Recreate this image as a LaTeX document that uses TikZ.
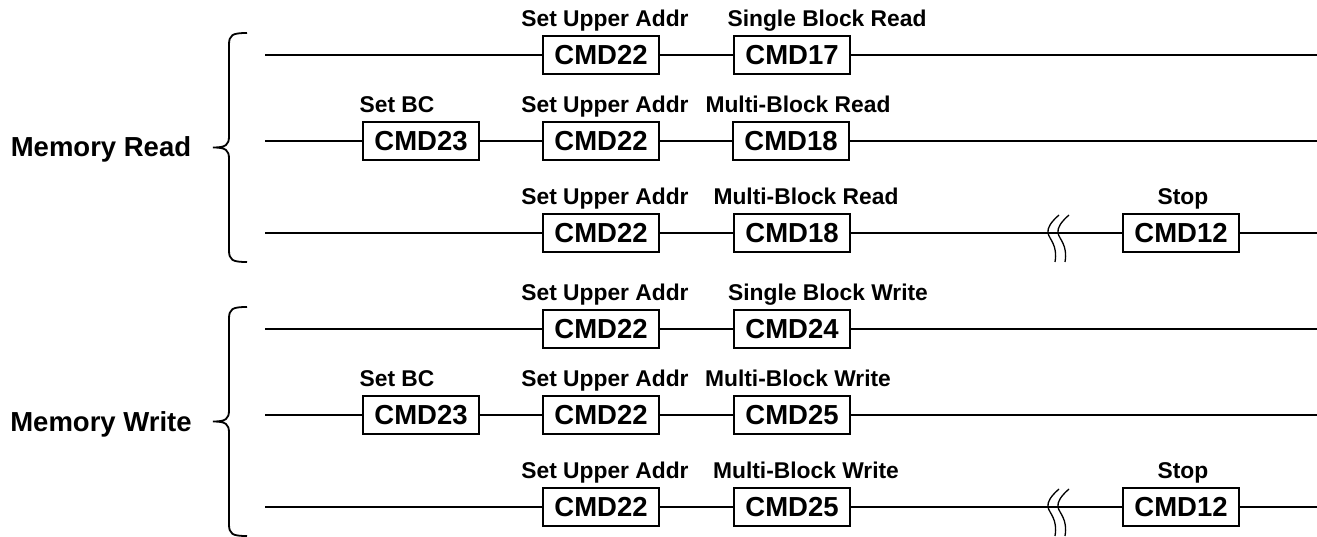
\documentclass[tikz,border=0pt]{standalone}
\usepackage{fontspec}
\setmainfont{Liberation Sans}
\usetikzlibrary{positioning}

\tikzset{
  cmdbox/.style={draw, line width=1.8pt, fill=white, minimum width=116pt, minimum height=38pt,
                 inner sep=0pt, font=\fontsize{27.5}{30}\selectfont\bfseries},
  cmdlbl/.style={anchor=base, inner sep=0pt, font=\fontsize{22.8}{26}\selectfont\bfseries},
  grplbl/.style={anchor=base, inner sep=0pt, font=\fontsize{27.5}{30}\selectfont\bfseries},
  bus/.style={line width=1.8pt},
  brk/.style={line width=1.3pt}
}

\begin{document}
\begin{tikzpicture}[x=1pt, y=-1pt]
    \useasboundingbox (0,0) rectangle (1317,537);

    % Memory read group
    \begin{scope}
        \node[grplbl] (rdlbl) at (101,157) {Memory Read};
        \draw[bus] (247,33) .. controls (232,33) and (229,35) .. (229,45) -- (229,136)
            .. controls (229,145) and (226,147.5) .. (213,147.5)
            .. controls (226,147.5) and (229,150) .. (229,159) -- (229,250)
            .. controls (229,260) and (232,262) .. (247,262);

        % Single block read
        \coordinate (r1s) at (265,55);
        \coordinate (r1e) at (1317,55);
        \node[cmdbox] (r1a) at (601,55) {CMD22};
        \node[cmdbox] (r1b) at (792,55) {CMD17};
        \node[cmdlbl] (r1la) at (605,26.5) {Set Upper Addr};
        \node[cmdlbl] (r1lb) at (827,26.5) {Single Block Read};
        \draw[bus] (r1s) -- (r1a) -- (r1b) -- (r1e);

        % Multi-block read with block count
        \coordinate (r2s) at (265,141);
        \coordinate (r2e) at (1317,141);
        \node[cmdbox] (r2a) at (421,141) {CMD23};
        \node[cmdbox] (r2b) at (601,141) {CMD22};
        \node[cmdbox] (r2c) at (791,141) {CMD18};
        \node[cmdlbl] (r2la) at (397,112.5) {Set BC};
        \node[cmdlbl] (r2lb) at (605,112.5) {Set Upper Addr};
        \node[cmdlbl] (r2lc) at (798,112.5) {Multi-Block Read};
        \draw[bus] (r2s) -- (r2a) -- (r2b) -- (r2c) -- (r2e);

        % Multi-block read with stop
        \coordinate (r3s) at (265,233);
        \coordinate (r3e) at (1317,233);
        \node[cmdbox] (r3a) at (601,233) {CMD22};
        \node[cmdbox] (r3b) at (792,233) {CMD18};
        \node[cmdbox] (r3c) at (1181,233) {CMD12};
        \node[cmdlbl] (r3la) at (605,204.5) {Set Upper Addr};
        \node[cmdlbl] (r3lb) at (806,204.5) {Multi-Block Read};
        \node[cmdlbl] (r3lc) at (1183,204.5) {Stop};
        \draw[bus] (r3s) -- (r3a) -- (r3b) -- (r3c) -- (r3e);
        \begin{scope}[shift={(1053,233)}]
            \draw[brk] (6,-18) .. controls (-2,-11) and (-6,-5) .. (-5,0)
                .. controls (-4,6) and (5,12) .. (2,29);
            \draw[brk] (16,-18) .. controls (8,-11) and (4,-5) .. (5,0)
                .. controls (6,6) and (15,12) .. (12,29);
        \end{scope}
    \end{scope}

    % Memory write group
    \begin{scope}
        \node[grplbl] (wrlbl) at (101,431) {Memory Write};
        \draw[bus] (247,307) .. controls (232,307) and (229,309) .. (229,319) -- (229,410)
            .. controls (229,419) and (226,421.5) .. (213,421.5)
            .. controls (226,421.5) and (229,424) .. (229,433) -- (229,524)
            .. controls (229,534) and (232,536) .. (247,536);

        % Single block write
        \coordinate (w1s) at (265,329);
        \coordinate (w1e) at (1317,329);
        \node[cmdbox] (w1a) at (601,329) {CMD22};
        \node[cmdbox] (w1b) at (792,329) {CMD24};
        \node[cmdlbl] (w1la) at (605,300.5) {Set Upper Addr};
        \node[cmdlbl] (w1lb) at (828,300.5) {Single Block Write};
        \draw[bus] (w1s) -- (w1a) -- (w1b) -- (w1e);

        % Multi-block write with block count
        \coordinate (w2s) at (265,415);
        \coordinate (w2e) at (1317,415);
        \node[cmdbox] (w2a) at (421,415) {CMD23};
        \node[cmdbox] (w2b) at (601,415) {CMD22};
        \node[cmdbox] (w2c) at (792,415) {CMD25};
        \node[cmdlbl] (w2la) at (397,386.5) {Set BC};
        \node[cmdlbl] (w2lb) at (605,386.5) {Set Upper Addr};
        \node[cmdlbl] (w2lc) at (798,386.5) {Multi-Block Write};
        \draw[bus] (w2s) -- (w2a) -- (w2b) -- (w2c) -- (w2e);

        % Multi-block write with stop
        \coordinate (w3s) at (265,507);
        \coordinate (w3e) at (1317,507);
        \node[cmdbox] (w3a) at (601,507) {CMD22};
        \node[cmdbox] (w3b) at (792,507) {CMD25};
        \node[cmdbox] (w3c) at (1181,507) {CMD12};
        \node[cmdlbl] (w3la) at (605,478.5) {Set Upper Addr};
        \node[cmdlbl] (w3lb) at (806,478.5) {Multi-Block Write};
        \node[cmdlbl] (w3lc) at (1183,478.5) {Stop};
        \draw[bus] (w3s) -- (w3a) -- (w3b) -- (w3c) -- (w3e);
        \begin{scope}[shift={(1053,507)}]
            \draw[brk] (6,-18) .. controls (-2,-11) and (-6,-5) .. (-5,0)
                .. controls (-4,6) and (5,12) .. (2,29);
            \draw[brk] (16,-18) .. controls (8,-11) and (4,-5) .. (5,0)
                .. controls (6,6) and (15,12) .. (12,29);
        \end{scope}
    \end{scope}
\end{tikzpicture}
\end{document}
